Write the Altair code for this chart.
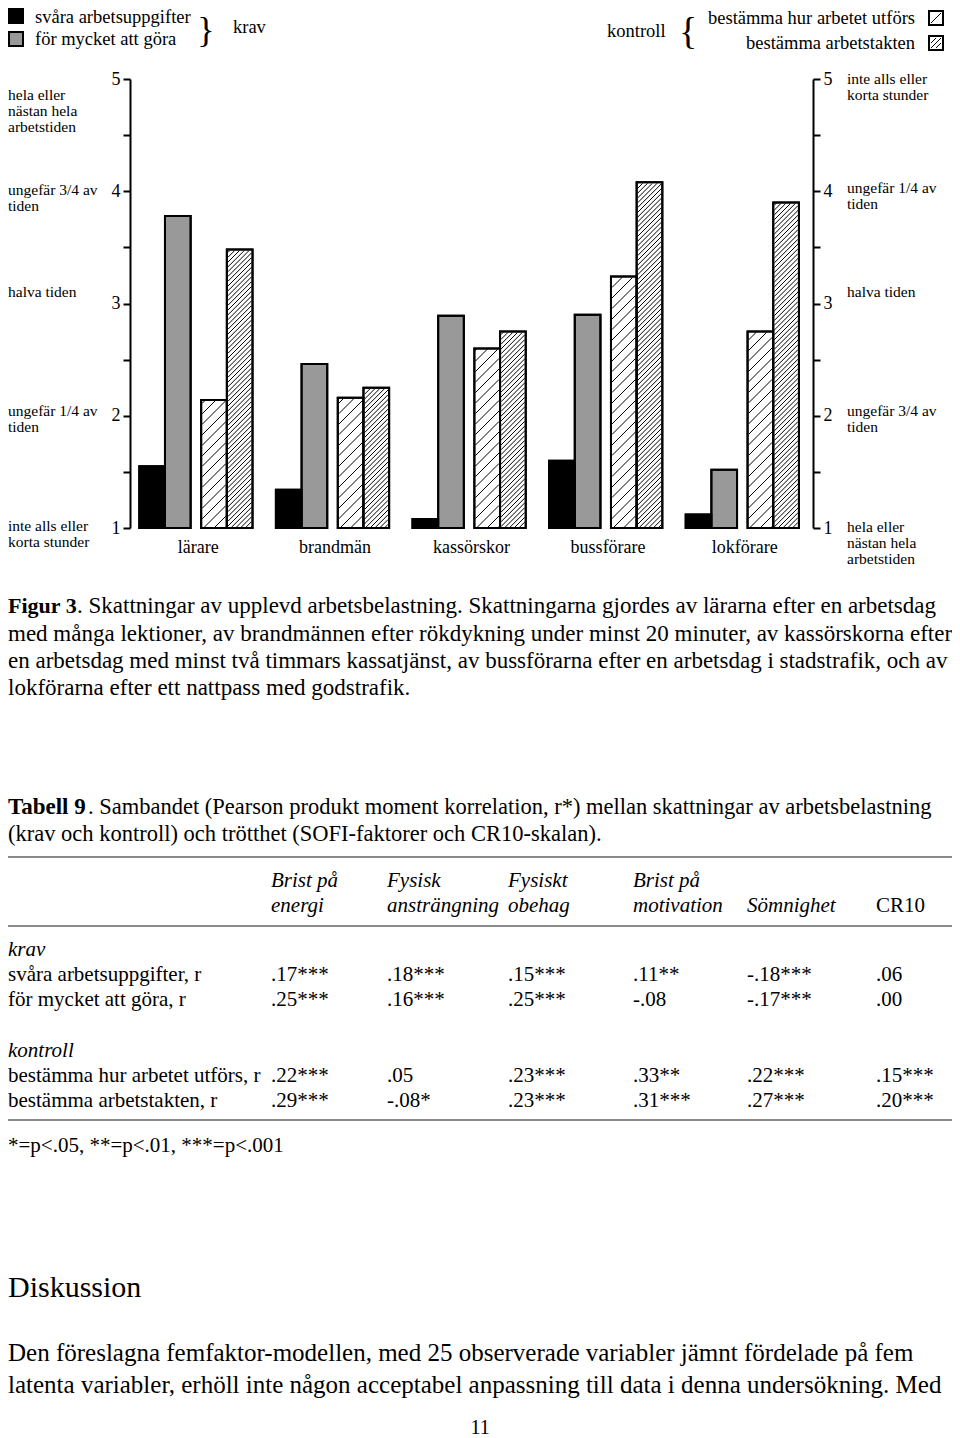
import math
import altair as alt
import pandas as pd

# ---------------- data ----------------
categories = ["lärare", "brandmän", "kassörskor", "bussförare", "lokförare"]
series = ["svåra arbetsuppgifter", "för mycket att göra",
          "bestämma hur arbetet utförs", "bestämma arbetstakten"]
svara_arbetsuppgifter = [1.55, 1.34, 1.08, 1.60, 1.12]
for_mycket_att_gora = [3.78, 2.46, 2.89, 2.90, 1.52]
bestamma_hur = [2.14, 2.16, 2.60, 3.24, 2.75]
bestamma_takt = [3.48, 2.25, 2.75, 4.08, 3.90]
series_values = [svara_arbetsuppgifter, for_mycket_att_gora, bestamma_hur, bestamma_takt]

y_ticks = [1, 1.5, 2, 2.5, 3, 3.5, 4, 4.5, 5]
left_level_text = ["inte alls eller\nkorta stunder", "ungefär 1/4 av\ntiden", "halva tiden",
                   "ungefär 3/4 av\ntiden", "hela eller\nnästan hela\narbetstiden"]
right_level_text = ["hela eller\nnästan hela\narbetstiden", "ungefär 3/4 av\ntiden", "halva tiden",
                    "ungefär 1/4 av\ntiden", "inte alls eller\nkorta stunder"]

caption_bold = "Figur 3"
caption_lines = [
    ". Skattningar av upplevd arbetsbelastning. Skattningarna gjordes av lärarna efter en arbetsdag",
    "med många lektioner, av brandmännen efter rökdykning under minst 20 minuter, av kassörskorna efter",
    "en arbetsdag med minst två timmars kassatjänst, av bussförarna efter en arbetsdag i stadstrafik, och av",
    "lokförarna efter ett nattpass med godstrafik.",
]
table_bold = "Tabell 9"
table_title = [
    ". Sambandet (Pearson produkt moment korrelation, r*) mellan skattningar av arbetsbelastning",
    "(krav och kontroll) och trötthet (SOFI-faktorer och CR10-skalan).",
]
header_top = ["Brist på", "Fysisk", "Fysiskt", "Brist på", "", ""]
header_bottom = ["energi", "ansträngning", "obehag", "motivation", "Sömnighet", "CR10"]
header_italic = [True, True, True, True, True, False]
group_names = ["krav", "kontroll"]
row_labels = [["svåra arbetsuppgifter, r", "för mycket att göra, r"],
              ["bestämma hur arbetet utförs, r", "bestämma arbetstakten, r"]]
row_values = [
    [[".17***", ".18***", ".15***", ".11**", "-.18***", ".06"],
     [".25***", ".16***", ".25***", "-.08", "-.17***", ".00"]],
    [[".22***", ".05", ".23***", ".33**", ".22***", ".15***"],
     [".29***", "-.08*", ".23***", ".31***", ".27***", ".20***"]],
]
footnote = "*=p<.05, **=p<.01, ***=p<.001"
heading = "Diskussion"
paragraph = [
    "Den föreslagna femfaktor-modellen, med 25 observerade variabler jämnt fördelade på fem",
    "latenta variabler, erhöll inte någon acceptabel anpassning till data i denna undersökning. Med",
]
page_number = "11"

# ---------------- layout ----------------
SERIF = "Liberation Serif"
OX, OY = 130, 79          # plot origin on the page
PW, PH = 683, 449         # plot size
KX, KY = PW / 5.0, PH / 4.0
SLOT = [0.068, 0.256, 0.521, 0.709]
BW = 0.188
HATCH = {series[2]: 10.5, series[3]: 4.8}

rows = []
for i, c in enumerate(categories):
    for j, s in enumerate(series):
        rows.append(dict(cat=c, series=s, v=series_values[j][i], base=1.0,
                         x0=i + SLOT[j], x1=i + SLOT[j] + BW))
bars = pd.DataFrame(rows)

segs = []
for r in rows:
    if r["series"] not in HATCH:
        continue
    sp = HATCH[r["series"]]
    a, b, h = r["x0"] * KX + 1, r["x1"] * KX - 1, (r["v"] - 1) * KY - 1
    c = math.floor((a - h) / sp) * sp
    while c < b:
        if a - c >= 0:
            sx, sh = a, a - c
        else:
            sx, sh = c, 0.0
        if b - c <= h:
            ex, eh = b, b - c
        else:
            ex, eh = h + c, h
        if sh < h and eh > 0 and ex > sx:
            segs.append(dict(x=sx / KX, y=1 + sh / KY, x2=ex / KX, y2=1 + eh / KY))
        c += sp
segdf = pd.DataFrame(segs)

labdf = pd.DataFrame({"cat": categories, "xc": [i + 0.5 for i in range(len(categories))]})

xs = alt.Scale(domain=[0, 5], nice=False, zero=False)
ys = alt.Scale(domain=[1, 5], nice=False, zero=False)

def yaxis(orient):
    return alt.Axis(orient=orient, values=y_ticks,
                    labelExpr="datum.value % 1 === 0 ? format(datum.value, 'd') : ''",
                    tickSize=7, tickWidth=2, tickColor="black", domainColor="black",
                    domainWidth=2, labelFont=SERIF, labelFontSize=18, labelColor="black",
                    labelPadding=3, grid=False, title=None, labelFlush=False,
                    labelOverlap=False, labelBound=False)

xaxis = alt.Axis(orient="bottom", values=[0, 1, 2, 3, 4, 5], labels=False, tickSize=4,
                 tickWidth=2, tickColor="black", domainColor="black", domainWidth=2,
                 grid=False, title=None)

bar_layer = alt.Chart(bars).mark_rect(stroke="black", strokeWidth=2).encode(
    x=alt.X("x0:Q", scale=xs, axis=xaxis), x2="x1",
    y=alt.Y("v:Q", scale=ys, axis=yaxis("left")), y2="base",
    fill=alt.Fill("series:N", scale=alt.Scale(domain=series,
                  range=["#000000", "#999999", "#ffffff", "#ffffff"]), legend=None))

hatch_layer = alt.Chart(segdf).mark_rule(color="black", strokeWidth=1).encode(
    x=alt.X("x:Q", scale=xs, axis=None), x2="x2",
    y=alt.Y("y:Q", scale=ys, axis=None), y2="y2")

outline_layer = alt.Chart(bars).mark_rect(fill="white", fillOpacity=0, stroke="black",
                                          strokeWidth=2).encode(
    x=alt.X("x0:Q", scale=xs, axis=None), x2="x1",
    y=alt.Y("v:Q", scale=ys, axis=yaxis("right")), y2="base")

cat_layer = alt.Chart(labdf).mark_text(font=SERIF, fontSize=18, color="black",
                                       baseline="middle").encode(
    x=alt.X("xc:Q", scale=xs, axis=None), y=alt.value(PH + 20), text="cat:N")

layers = [bar_layer, hatch_layer, outline_layer, cat_layer]


def text(s, px, py, size, weight="normal", style="normal", align="left", lh=None):
    kw = dict(font=SERIF, fontSize=size, fontWeight=weight, fontStyle=style,
              align=align, baseline="middle", color="black")
    if "\n" in s:
        kw["lineBreak"] = "\n"
        kw["lineHeight"] = lh or size
    layers.append(alt.Chart(pd.DataFrame({"t": [s]})).mark_text(**kw).encode(
        text="t:N", x=alt.value(px - OX), y=alt.value(py - OY)))


def rect(x1, y1, x2, y2, fill, sw=2):
    layers.append(alt.Chart(pd.DataFrame({"k": [0]})).mark_rect(
        fill=fill, stroke="black", strokeWidth=sw).encode(
        x=alt.value(x1 - OX), x2=alt.value(x2 - OX), y=alt.value(y1 - OY), y2=alt.value(y2 - OY)))


def rule(x1, y1, x2, y2, color="black", sw=1):
    layers.append(alt.Chart(pd.DataFrame({"k": [0]})).mark_rule(
        color=color, strokeWidth=sw).encode(
        x=alt.value(x1 - OX), x2=alt.value(x2 - OX), y=alt.value(y1 - OY), y2=alt.value(y2 - OY)))


# ---- legend ----
rect(9, 9, 23, 23, "#000000")
rect(9, 32, 23, 46, "#999999")
text(series[0], 35, 17, 18.5)
text(series[1], 35, 39, 18.5)
text("}", 206, 31, 36, align="center")
text("krav", 233, 27, 18.5)
text("kontroll", 607, 31, 18.5)
text("{", 688, 33, 38, align="center")
text(series[2], 915, 18, 18.5, align="right")
text(series[3], 915, 43, 18.5, align="right")
rect(929, 11, 943, 25, "#ffffff")
rule(931, 23, 941, 13)
rect(929, 36, 943, 50, "#ffffff")
rule(931, 48, 941, 38)
rule(931, 43, 936, 38)
rule(936, 48, 941, 43)

# ---- level descriptions ----
left_y = [526, 411, 292, 190, 95]
right_y = [527, 411, 292, 188, 79]
for t, yy in zip(left_level_text, left_y):
    text(t, 8, yy, 15.5, lh=16)
for t, yy in zip(right_level_text, right_y):
    text(t, 847, yy, 15.5, lh=16)

# ---- caption ----
text(caption_bold, 8, 606, 22, weight="bold")
text(caption_lines[0], 77, 606, 23)
for k, yy in enumerate([634, 661, 688]):
    text(caption_lines[k + 1], 8, yy, 23)

# ---- table ----
text(table_bold, 8, 807, 23, weight="bold")
text(table_title[0], 88, 807, 22.5)
text(table_title[1], 8, 834, 22.5)
rule(8, 857, 956, 857, "#8a8a8a", 2)
rule(8, 926, 956, 926, "#8a8a8a", 2)
rule(8, 1120, 956, 1120, "#8a8a8a", 2)
col_x = [271, 387, 508, 633, 747, 876]
for cx, top, bot, it in zip(col_x, header_top, header_bottom, header_italic):
    st = "italic" if it else "normal"
    if top:
        text(top, cx, 881, 21, style=st)
    text(bot, cx, 906, 21, style=st)
group_y = [950, 1051]
row_y = [[975, 1000], [1076, 1101]]
for g in range(2):
    text(group_names[g], 8, group_y[g], 21, style="italic")
    for r in range(2):
        text(row_labels[g][r], 8, row_y[g][r], 21)
        for cx, val in zip(col_x, row_values[g][r]):
            text(val, cx, row_y[g][r], 21)
text(footnote, 8, 1146, 21)

# ---- discussion ----
text(heading, 8, 1288, 30)
text(paragraph[0], 8, 1353, 25)
text(paragraph[1], 8, 1385, 25)
text(page_number, 480, 1428, 20, align="center")

chart = alt.layer(*layers).resolve_axis(y="independent").properties(
    width=PW, height=PH,
    autosize=alt.AutoSizeParams(type="none"),
    padding={"left": OX - 8, "top": OY - 8, "right": 952 - OX - PW, "bottom": 1438 - OY - PH},
    background="white",
).configure_view(stroke=None)

chart.save("out.html", embed_options={"renderer": "svg", "actions": False})
